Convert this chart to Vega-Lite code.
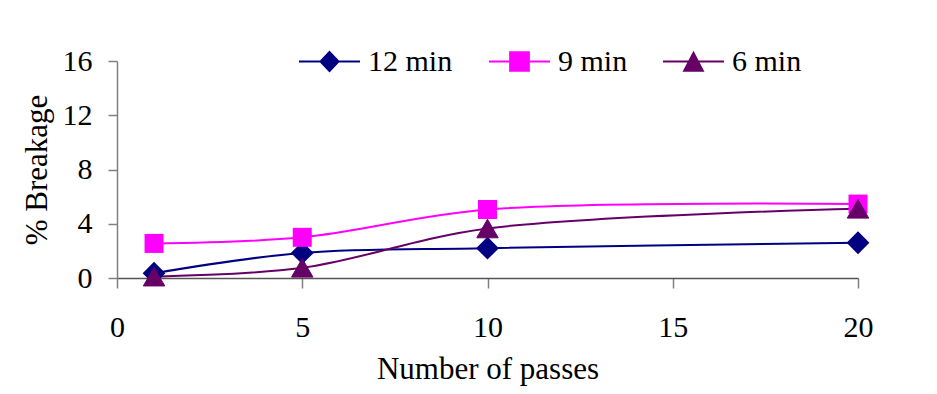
{
  "$schema": "https://vega.github.io/schema/vega-lite/v6.json",
  "width": 741,
  "height": 217,
  "autosize": "none",
  "padding": {"left": 117, "top": 61, "right": 79, "bottom": 116},
  "background": "white",
  "config": {
    "view": {"stroke": null},
    "font": "Liberation Serif",
    "axis": {"labelFont": "Liberation Serif", "titleFont": "Liberation Serif", "labelColor": "black", "titleColor": "black", "labelFontSize": 30, "titleFontSize": 31, "titleFontWeight": "normal", "grid": false},
    "legend": {
      "title": null,
      "orient": "none",
      "direction": "horizontal",
      "padding": 0,
      "symbolSize": 3721,
      "symbolStrokeWidth": 0,
      "labelOffset": 8,
      "labelFont": "Liberation Serif",
      "labelFontSize": 30,
      "labelColor": "black",
      "labelBaseline": "middle",
      "labelLimit": 300
    }
  },
  "data": {
    "values": [
      {"series": "12 min", "passes": 1, "breakage": 0.35},
      {"series": "12 min", "passes": 5, "breakage": 1.85},
      {"series": "12 min", "passes": 10, "breakage": 2.2},
      {"series": "12 min", "passes": 20, "breakage": 2.6},
      {"series": "9 min", "passes": 1, "breakage": 2.55},
      {"series": "9 min", "passes": 5, "breakage": 3.0},
      {"series": "9 min", "passes": 10, "breakage": 5.05},
      {"series": "9 min", "passes": 20, "breakage": 5.45},
      {"series": "6 min", "passes": 1, "breakage": 0.1},
      {"series": "6 min", "passes": 5, "breakage": 0.75},
      {"series": "6 min", "passes": 10, "breakage": 3.65},
      {"series": "6 min", "passes": 20, "breakage": 5.1}
    ]
  },
  "encoding": {
    "x": {
      "field": "passes", "type": "quantitative",
      "scale": {"domain": [0, 20], "nice": false, "zero": false},
      "axis": {"title": "Number of passes", "values": [0, 5, 10, 15, 20], "domainColor": "#555555", "domainWidth": 1.5, "tickColor": "#808080", "tickSize": 10, "tickWidth": 1.5, "labelPadding": 24, "titleY": 100, "titleBaseline": "alphabetic", "labelFlush": false}
    },
    "y": {
      "field": "breakage", "type": "quantitative",
      "scale": {"domain": [0, 16], "nice": false},
      "axis": {"title": "% Breakage", "values": [0, 4, 8, 12, 16], "domainColor": "#808080", "domainWidth": 1.5, "tickColor": "#808080", "tickSize": 9, "tickWidth": 1.5, "labelPadding": 16, "titleX": -71, "titleBaseline": "alphabetic", "labelFlush": false}
    }
  },
  "layer": [
    {
      "mark": {"type": "line", "interpolate": "catmull-rom", "strokeWidth": 2},
      "encoding": {
        "color": {
          "field": "series", "type": "nominal",
          "scale": {"domain": ["12 min", "9 min", "6 min"], "range": ["#000080", "#FF00FF", "#660066"]},
          "legend": null
        }
      }
    },
    {
      "transform": [{"filter": "datum.series === '12 min'"}],
      "mark": {"type": "point", "filled": true, "shape": "diamond", "size": 520, "color": "#000080"},
      "encoding": {
        "opacity": {
          "field": "series", "type": "ordinal",
          "scale": {"domain": ["12 min"], "range": [1]},
          "legend": {"legendX": 182, "legendY": -30, "symbolType": "M-1,-0.03L1,-0.03L1,0.03L-1,0.03Z M0,-0.36L0.34,0L0,0.36L-0.34,0Z", "symbolFillColor": "#000080"}
        }
      }
    },
    {
      "transform": [{"filter": "datum.series === '9 min'"}],
      "mark": {"type": "point", "filled": true, "opacity": 1, "shape": "square", "size": 361, "color": "#FF00FF"},
      "encoding": {
        "strokeDash": {
          "field": "series", "type": "nominal",
          "scale": {"domain": ["9 min"], "range": [[1, 0]]},
          "legend": {"legendX": 372, "legendY": -30, "symbolType": "M-1,-0.03L1,-0.03L1,0.03L-1,0.03Z M-0.34,-0.34L0.34,-0.34L0.34,0.34L-0.34,0.34Z", "symbolFillColor": "#FF00FF"}
        }
      }
    },
    {
      "transform": [{"filter": "datum.series === '6 min'"}],
      "mark": {"type": "point", "filled": true, "opacity": 1, "shape": "triangle-up", "size": 460, "color": "#660066", "strokeWidth": 1},
      "encoding": {
        "stroke": {
          "field": "series", "type": "nominal",
          "scale": {"domain": ["6 min"], "range": ["#660066"]},
          "legend": {"legendX": 546, "legendY": -30, "symbolType": "M-1,-0.03L1,-0.03L1,0.03L-1,0.03Z M0,-0.35L0.36,0.34L-0.36,0.34Z", "symbolFillColor": "#660066", "symbolStrokeWidth": 0}
        }
      }
    }
  ]
}
